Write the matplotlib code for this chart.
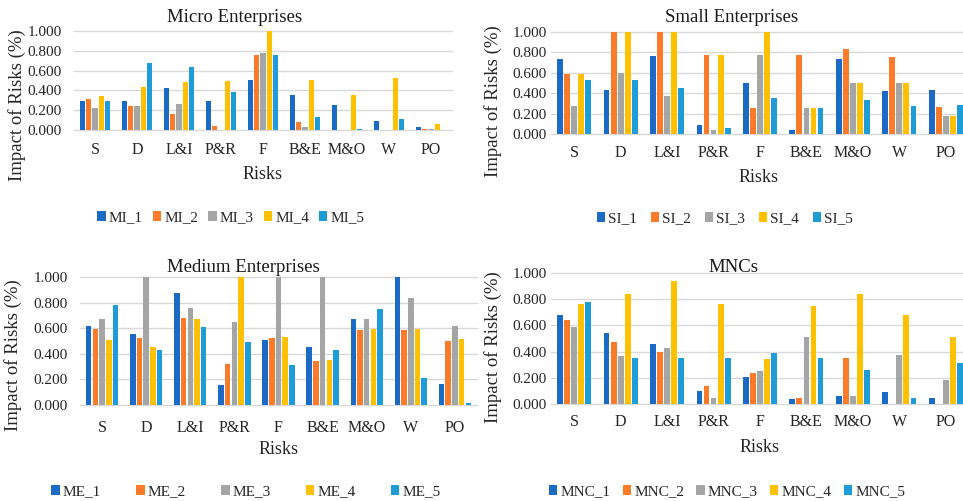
import numpy as np
import matplotlib
matplotlib.use('Agg')
import matplotlib.pyplot as plt

plt.rcParams['font.family'] = ['Liberation Serif', 'DejaVu Serif']

risks = ['S', 'D', 'L&I', 'P&R', 'F', 'B&E', 'M&O', 'W', 'PO']
colors = ['#1B6AC6', '#FB7B2A', '#A5A5A5', '#FFC000', '#1E9CD8']

# values per series, one list per risk category
micro = [
    [0.29, 0.29, 0.42, 0.29, 0.51, 0.35, 0.25, 0.09, 0.035],
    [0.31, 0.24, 0.16, 0.04, 0.76, 0.08, 0.0, 0.0, 0.015],
    [0.22, 0.24, 0.26, 0.0, 0.78, 0.03, 0.0, 0.0, 0.015],
    [0.34, 0.43, 0.48, 0.50, 1.00, 0.51, 0.35, 0.53, 0.06],
    [0.29, 0.68, 0.64, 0.38, 0.76, 0.13, 0.015, 0.11, 0.0],
]
small = [
    [0.74, 0.43, 0.76, 0.085, 0.50, 0.036, 0.74, 0.42, 0.43],
    [0.59, 1.00, 1.00, 0.77, 0.25, 0.77, 0.83, 0.75, 0.26],
    [0.27, 0.60, 0.37, 0.036, 0.77, 0.25, 0.50, 0.50, 0.175],
    [0.59, 1.00, 1.00, 0.77, 1.00, 0.25, 0.50, 0.50, 0.175],
    [0.53, 0.53, 0.45, 0.055, 0.35, 0.25, 0.33, 0.27, 0.28],
]
medium = [
    [0.62, 0.553, 0.875, 0.16, 0.51, 0.45, 0.675, 1.00, 0.166],
    [0.595, 0.527, 0.683, 0.317, 0.525, 0.343, 0.584, 0.584, 0.50],
    [0.675, 1.00, 0.758, 0.652, 1.00, 1.00, 0.675, 0.834, 0.62],
    [0.51, 0.45, 0.675, 1.00, 0.532, 0.35, 0.592, 0.592, 0.517],
    [0.78, 0.426, 0.608, 0.49, 0.31, 0.426, 0.75, 0.21, 0.016],
]
mnc = [
    [0.68, 0.54, 0.46, 0.10, 0.206, 0.035, 0.06, 0.094, 0.043],
    [0.64, 0.47, 0.40, 0.14, 0.24, 0.043, 0.35, 0.0, 0.0],
    [0.59, 0.37, 0.43, 0.043, 0.25, 0.515, 0.06, 0.377, 0.18],
    [0.76, 0.84, 0.94, 0.76, 0.34, 0.75, 0.84, 0.68, 0.515],
    [0.78, 0.35, 0.35, 0.35, 0.39, 0.35, 0.26, 0.043, 0.31],
]

W, H = 963, 501
fig = plt.figure(figsize=(W / 100, H / 100), dpi=100)
fig.patch.set_facecolor('white')

# (data, series prefix, title, axes px box [left, right, top, bottom], title xy, ylabel xy,
#  xlabel xy, legend xy, legend colspacing, ytick pad, xtick pad)
panels = [
    (micro, 'MI', 'Micro Enterprises', (74, 452, 31, 130), (235, 17), (17, 105),
     (263, 174), (231, 218), 0.65, 9, 9),
    (small, 'SI', 'Small Enterprises', (551, 969, 32, 134), (732, 17), (493, 101),
     (759, 177), (725, 219), 0.9, 3, 8),
    (medium, 'ME', 'Medium Enterprises', (80, 477, 277, 405), (243, 268), (13, 355),
     (279, 450), (246, 492), 2.3, 9, 11),
    (mnc, 'MNC', 'MNCs', (551, 969, 273, 404), (733, 267), (493, 347),
     (760, 448), (727, 492), 0.8, 3, 7),
]

x = np.arange(len(risks))
step = 0.152
bw = 0.125

for data, prefix, title, box, txy, yxy, xxy, lxy, colsp, ypad, xpad in panels:
    l, r, t, b = box
    ax = fig.add_axes([l / W, 1 - b / H, (r - l) / W, (b - t) / H])
    handles = []
    for i, vals in enumerate(data):
        bars = ax.bar(x + (i - 2) * step, vals, width=bw, color=colors[i],
                      label=f'{prefix}_{i + 1}', zorder=3)
        handles.append(bars)
    ax.set_xlim(-0.5, len(risks) - 0.5)
    ax.set_ylim(0, 1.0)
    ax.set_yticks(np.arange(0, 1.01, 0.2))
    ax.set_yticklabels([f'{v:.3f}' for v in np.arange(0, 1.01, 0.2)])
    ax.set_xticks(x)
    ax.set_xticklabels(risks)
    ax.tick_params(axis='y', length=0, labelsize=11, pad=ypad, colors='#262626')
    ax.tick_params(axis='x', length=0, labelsize=11.5, pad=xpad, colors='#262626')
    for s in ax.spines.values():
        s.set_visible(False)
    ax.grid(axis='y', color='#D9D9D9', linewidth=1, zorder=0)
    ax.set_axisbelow(True)
    for gl in ax.get_ygridlines():
        gl.set_clip_on(False)

    fig.text(txy[0] / W, 1 - txy[1] / H, title, fontsize=13.5, ha='center', va='center',
             color='#1a1a1a')
    fig.text(yxy[0] / W, 1 - yxy[1] / H, 'Impact of Risks (%)', fontsize=13.5,
             rotation=90, ha='center', va='center', color='#262626')
    fig.text(xxy[0] / W, 1 - xxy[1] / H, 'Risks', fontsize=13, ha='center', va='center',
             color='#262626')
    fig.legend(handles=handles, loc='center', bbox_to_anchor=(lxy[0] / W, 1 - lxy[1] / H),
               ncol=5, frameon=False, fontsize=11, handlelength=0.55, handleheight=0.55,
               handletextpad=0.2, columnspacing=colsp, borderpad=0, labelcolor='#262626')

fig.savefig('out.png', dpi=100, facecolor='white')
